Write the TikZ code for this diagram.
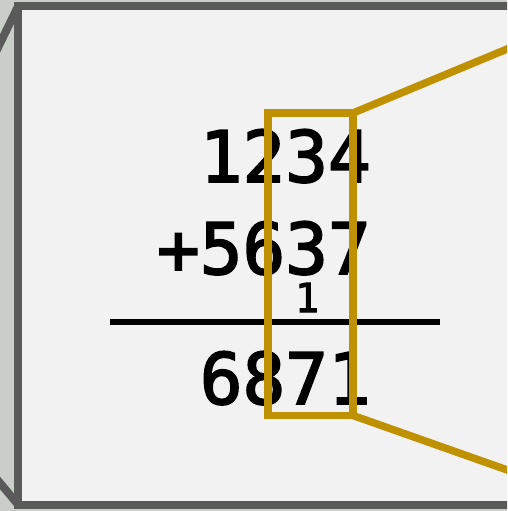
\documentclass[tikz,border=0pt]{standalone}
\usepackage{fontspec}
\newfontfamily\monofont[FakeBold=2.5]{DejaVu Sans Mono}
\definecolor{bgside}{HTML}{C9CEC8}
\definecolor{panelfill}{HTML}{F2F2F2}
\definecolor{panelline}{HTML}{5A5A5A}
\definecolor{gold}{HTML}{BF9000}
\begin{document}
\begin{tikzpicture}[x=1pt,y=-1pt,
  digits/.style={font=\monofont\fontsize{71}{71}\selectfont, inner sep=0, anchor=base east},
  carry/.style={font=\monofont\fontsize{40}{40}\selectfont, inner sep=0, anchor=base},
  goldline/.style={draw=gold, line width=7.5pt},
  frame/.style={draw=panelline, line width=8pt, line join=miter}]
\useasboundingbox (0,0) rectangle (507,511);
\clip (0,0) rectangle (507,511);
\fill[bgside] (0,0) rectangle (507,511);
% side face edges
\coordinate (tl) at (18,6.5);
\coordinate (bl) at (18,504.5);
\coordinate (tlside) at (-10,64);
\coordinate (blside) at (-10,471);
\draw[frame] (tlside) -- (tl);
\draw[frame] (blside) -- (bl);
% panel
\draw[frame, fill=panelfill] (tl) rectangle (530,504.5);
% digits
\node[digits] (a) at (371,182) {1234};
\node[digits] (b) at (371,274) {+5637};
\node[carry] (c) at (307,312) {1};
\coordinate (ruleL) at (110,321.5);
\coordinate (ruleR) at (440,321.5);
\draw[line width=6pt] (ruleL) -- (ruleR);
\node[digits] (s) at (371,404) {6871};
% zoom box
\coordinate (zl) at (268,113);
\coordinate (zr) at (353,415.5);
\coordinate (zt) at (353,113);
\coordinate (zb) at (353,415.5);
\draw[goldline] (zl) rectangle (zr);
\coordinate (ft) at (530,39.5);
\coordinate (fb) at (530,478);
\draw[goldline] (zt) -- (ft);
\draw[goldline] (zb) -- (fb);
\end{tikzpicture}
\end{document}
